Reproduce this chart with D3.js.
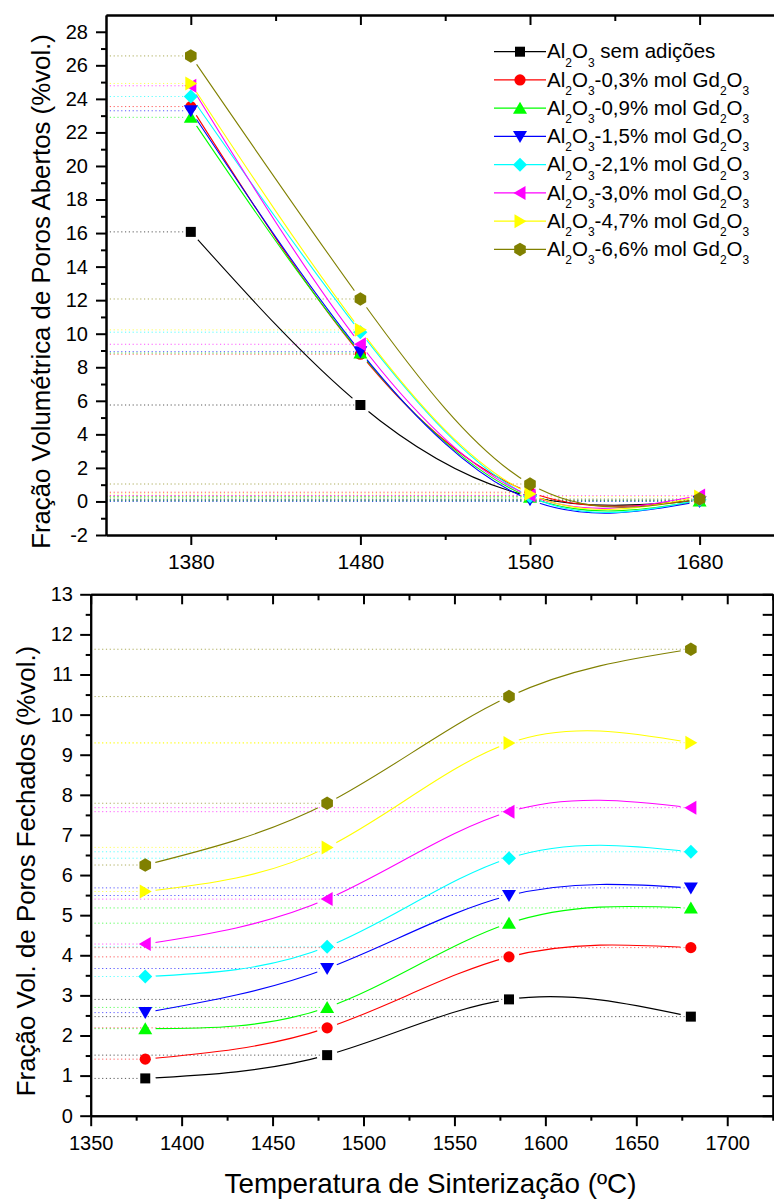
<!DOCTYPE html>
<html><head><meta charset="utf-8">
<script src="https://cdn.jsdelivr.net/npm/d3@7"></script>
<style>
body{margin:0;background:#fff}
svg{display:block;background:#fff}
text{font-family:"Liberation Sans",Arial,Helvetica,sans-serif;fill:#000}
</style>
</head><body>
<svg id="c" width="774" height="1199"></svg>
<script>
// ---------------- DATA ----------------
const temps = [1380, 1480, 1580, 1680];
const legendLabels = [
  "Al_2O_3 sem adições",
  "Al_2O_3-0,3% mol Gd_2O_3",
  "Al_2O_3-0,9% mol Gd_2O_3",
  "Al_2O_3-1,5% mol Gd_2O_3",
  "Al_2O_3-2,1% mol Gd_2O_3",
  "Al_2O_3-3,0% mol Gd_2O_3",
  "Al_2O_3-4,7% mol Gd_2O_3",
  "Al_2O_3-6,6% mol Gd_2O_3"
];
const seriesColors = ["#000000","#ff0000","#00ff00","#0000ff","#00ffff","#ff00ff","#ffff00","#808000"];
const seriesSymbols = ["square","circle","triUp","triDown","diamond","triLeft","triRight","hexagon"];
// open pores (%vol.) at 1380, 1480, 1580, 1680 °C
const openPores = [
  [16.07, 5.75, 0.30, 0.05],
  [23.54, 8.78, 0.55, 0.10],
  [22.90, 8.85, 0.25, 0.03],
  [23.29, 8.93, 0.10, 0.00],
  [24.14, 10.09, 0.30, 0.10],
  [24.78, 9.37, 0.35, 0.35],
  [24.92, 10.23, 0.45, 0.30],
  [26.56, 12.07, 1.04, 0.15]
];
// closed pores (%vol.)
const closedPores = [
  [0.93, 1.51, 2.90, 2.47],
  [1.41, 2.19, 3.96, 4.19],
  [2.17, 2.70, 4.80, 5.18],
  [2.57, 3.67, 5.49, 5.68],
  [3.47, 4.21, 6.42, 6.58],
  [4.28, 5.40, 7.58, 7.68],
  [5.59, 6.69, 9.29, 9.30],
  [6.25, 7.79, 10.45, 11.63]
];
const topXMajor = [1380, 1480, 1580, 1680];
const topXMinor = [1430, 1530, 1630, 1730];
const topYMajor = d3.range(-2, 29, 2);
const topYMinor = d3.range(-1, 29, 2);
const botXMajor = d3.range(1350, 1701, 50);
const botXMinor = d3.range(1375, 1726, 50);
const botYMajor = d3.range(0, 14, 1);
const botYMinor = d3.range(0.5, 13, 1);
const titleTopY = "Fração Volumétrica de Poros Abertos (%vol.)";
const titleBotY = "Fração Vol. de Poros Fechados (%vol.)";
const titleX = "Temperatura de Sinterização (ºC)";

// ---------------- SETUP ----------------
const svg = d3.select("#c");
const FONT = '"Liberation Sans",Arial,Helvetica,sans-serif';
const fmt = d => String(d);

function symbolPath(type) {
  switch (type) {
    case "square": return "M-5,-5H5V5H-5Z";
    case "circle": return d3.symbol(d3.symbolCircle, Math.PI * 5.6 * 5.6)();
    case "triUp": return "M0,-6.5L7,5.5L-7,5.5Z";
    case "triDown": return "M0,6.5L7,-5.5L-7,-5.5Z";
    case "diamond": return "M0,-7L7,0L0,7L-7,0Z";
    case "triLeft": return "M-6.5,0L5.5,-7L5.5,7Z";
    case "triRight": return "M6.5,0L-5.5,-7L-5.5,7Z";
    case "hexagon": {
      const r = 6.7, pts = [];
      for (let k = 0; k < 6; k++) {
        const a = (-90 + 60 * k) * Math.PI / 180;
        pts.push([r * Math.cos(a), r * Math.sin(a)]);
      }
      return "M" + pts.map(p => p[0].toFixed(2) + "," + p[1].toFixed(2)).join("L") + "Z";
    }
  }
}

function styleAxis(g, fs) {
  g.select(".domain").attr("stroke", "#000").attr("stroke-width", 2);
  g.selectAll(".tick line").attr("stroke", "#000").attr("stroke-width", 2);
  g.selectAll(".tick text").attr("font-size", fs).attr("font-family", FONT).attr("fill", "#000");
}

const defs = svg.append("defs");

function drawPlot(id, x, y, data, x0) {
  const g = svg.append("g").attr("class", id);
  const line = d3.line().curve(d3.curveNatural).x((d, i) => x(temps[i])).y(d => y(d));
  const W = 774, H = 1199;
  // drop lines
  data.forEach((vals, s) => {
    vals.forEach((v, i) => {
      g.append("line")
        .attr("x1", x0).attr("x2", x(temps[i]) - 5)
        .attr("y1", y(v)).attr("y2", y(v))
        .attr("stroke", seriesColors[s]).attr("stroke-width", 1)
        .attr("stroke-dasharray", "1.2,2.6").attr("opacity", 0.65);
    });
  });
  // curves with gaps around symbols
  data.forEach((vals, s) => {
    const m = defs.append("mask").attr("id", id + "m" + s).attr("maskUnits", "userSpaceOnUse")
      .attr("x", 0).attr("y", 0).attr("width", W).attr("height", H);
    m.append("rect").attr("width", W).attr("height", H).attr("fill", "#fff");
    vals.forEach((v, i) => {
      m.append("circle").attr("cx", x(temps[i])).attr("cy", y(v)).attr("r", 10.5).attr("fill", "#000");
    });
    g.append("path").attr("d", line(vals)).attr("fill", "none")
      .attr("stroke", seriesColors[s]).attr("stroke-width", 1.1)
      .attr("mask", "url(#" + id + "m" + s + ")");
  });
  // symbols
  data.forEach((vals, s) => {
    g.selectAll(null).data(vals).enter().append("path")
      .attr("d", symbolPath(seriesSymbols[s]))
      .attr("transform", (v, i) => "translate(" + x(temps[i]) + "," + y(v) + ")")
      .attr("fill", seriesColors[s]);
  });
}

// ---------------- TOP PLOT ----------------
const xT = d3.scaleLinear().domain([1330, 1730]).range([106, 784.4]);
const yT = d3.scaleLinear().domain([-2, 29]).range([535, 15]);

drawPlot("top", xT, yT, openPores, 106);

let a;
a = svg.append("g").attr("transform", "translate(0,535)")
  .call(d3.axisBottom(xT).tickValues(topXMajor).tickSize(10).tickSizeOuter(0).tickPadding(9).tickFormat(fmt));
styleAxis(a, 21);
a = svg.append("g").attr("transform", "translate(0,535)")
  .call(d3.axisBottom(xT).tickValues(topXMinor).tickSize(5).tickSizeOuter(0).tickFormat(""));
styleAxis(a, 21);
a = svg.append("g").attr("transform", "translate(0,15)")
  .call(d3.axisTop(xT).tickValues(topXMajor).tickSize(-10).tickSizeOuter(0).tickFormat(""));
styleAxis(a, 21);
a = svg.append("g").attr("transform", "translate(0,15)")
  .call(d3.axisTop(xT).tickValues(topXMinor).tickSize(-6).tickSizeOuter(0).tickFormat(""));
styleAxis(a, 21);
a = svg.append("g").attr("transform", "translate(106,0)")
  .call(d3.axisLeft(yT).tickValues(topYMajor).tickSize(10).tickSizeOuter(0).tickPadding(8).tickFormat(fmt));
styleAxis(a, 20);
a = svg.append("g").attr("transform", "translate(106,0)")
  .call(d3.axisLeft(yT).tickValues(topYMinor).tickSize(5).tickSizeOuter(0).tickFormat(""));
styleAxis(a, 20);

// legend
const leg = svg.append("g");
legendLabels.forEach((lab, i) => {
  const cy = 51.7 + i * 28.25;
  leg.append("line").attr("x1", 494).attr("x2", 546).attr("y1", cy).attr("y2", cy)
    .attr("stroke", seriesColors[i]).attr("stroke-width", 1.2);
  leg.append("path").attr("d", symbolPath(seriesSymbols[i]))
    .attr("transform", "translate(520," + cy + ")").attr("fill", seriesColors[i]);
  const t = leg.append("text").attr("x", 547).attr("y", cy + 6.6).attr("font-size", 20.5);
  const parts = lab.split(/(_\d)/).filter(p => p.length);
  let sub = false;
  parts.forEach(p => {
    if (p[0] === "_") {
      t.append("tspan").attr("dy", 8.4).attr("font-size", 12).text(p.slice(1));
      sub = true;
    } else {
      const ts = t.append("tspan").text(p);
      if (sub) { ts.attr("dy", -8.4); sub = false; }
    }
  });
});

svg.append("text").attr("transform", "translate(49.5,291.5) rotate(-90)")
  .attr("text-anchor", "middle").attr("font-size", 25.8).text(titleTopY);

// ---------------- BOTTOM PLOT ----------------
const xB = d3.scaleLinear().domain([1350, 1725]).range([90.7, 772.7]);
const yB = d3.scaleLinear().domain([0, 13]).range([1115.7, 594.3]);

drawPlot("bot", xB, yB, closedPores, 90.7);

a = svg.append("g").attr("transform", "translate(0,1115.7)")
  .call(d3.axisBottom(xB).tickValues(botXMajor).tickSize(10.5).tickSizeOuter(0).tickPadding(9.6).tickFormat(fmt));
styleAxis(a, 20);
a = svg.append("g").attr("transform", "translate(0,1115.7)")
  .call(d3.axisBottom(xB).tickValues(botXMinor).tickSize(5).tickSizeOuter(0).tickFormat(""));
styleAxis(a, 20);
a = svg.append("g").attr("transform", "translate(0,594.3)")
  .call(d3.axisTop(xB).tickValues(botXMajor).tickSize(-10).tickSizeOuter(0).tickFormat(""));
styleAxis(a, 20);
a = svg.append("g").attr("transform", "translate(0,594.3)")
  .call(d3.axisTop(xB).tickValues(botXMinor).tickSize(-6).tickSizeOuter(0).tickFormat(""));
styleAxis(a, 20);
a = svg.append("g").attr("transform", "translate(90.7,0)")
  .call(d3.axisLeft(yB).tickValues(botYMajor).tickSize(10.5).tickSizeOuter(0).tickPadding(7.3).tickFormat(fmt));
styleAxis(a, 20);
a = svg.append("g").attr("transform", "translate(90.7,0)")
  .call(d3.axisLeft(yB).tickValues(botYMinor).tickSize(5).tickSizeOuter(0).tickFormat(""));
styleAxis(a, 20);
a = svg.append("g").attr("transform", "translate(772.7,0)")
  .call(d3.axisRight(yB).tickValues(botYMajor.concat(botYMinor)).tickSize(-10).tickSizeOuter(0).tickFormat(""));
styleAxis(a, 20);

svg.append("text").attr("transform", "translate(35,871) rotate(-90)")
  .attr("text-anchor", "middle").attr("font-size", 25.9).text(titleBotY);

svg.append("text").attr("x", 430.5).attr("y", 1193.3)
  .attr("text-anchor", "middle").attr("font-size", 27.8).text(titleX);
</script>
</body></html>
